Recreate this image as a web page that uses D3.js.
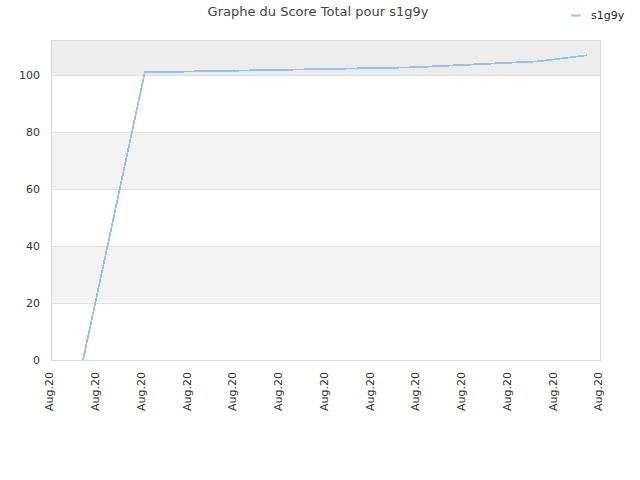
<!DOCTYPE html>
<html>
<head>
<meta charset="utf-8">
<script src="https://cdn.jsdelivr.net/npm/d3@7"></script>
<style>
  body { margin: 0; background: #fff; }
  svg { display: block; font-family: "DejaVu Sans", sans-serif; }
</style>
</head>
<body>
<svg id="chart" width="640" height="480"></svg>
<script>
// ---- data ----
const seriesName = "s1g9y";
const dates = ["2020-08-01T16:48", "2020-08-03T01:12", "2020-08-06T15:07", "2020-08-08T21:50", "2020-08-11T15:36", "2020-08-12T17:17"];
const scores = [0, 101.05, 102.1, 102.8, 104.9, 107.05];
const yTicks = [0, 20, 40, 60, 80, 100];
const xTickLabels = ["Aug.20","Aug.20","Aug.20","Aug.20","Aug.20","Aug.20","Aug.20","Aug.20","Aug.20","Aug.20","Aug.20","Aug.20","Aug.20"];
const xStart = "2020-08-01T00:00", xEnd = "2020-08-13T00:00";
const titleText = "Graphe du Score Total pour s1g9y";

const parse = d3.timeParse("%Y-%m-%dT%H:%M");
const data = dates.map((d, i) => ({ t: parse(d), v: scores[i] }));

const svg = d3.select("#chart");
const m = { left: 51, right: 40, top: 40, bottom: 120 };
const W = 640, H = 480;
const x = d3.scaleTime().domain([parse(xStart), parse(xEnd)]).range([m.left, W - m.right]);
const yMax = d3.max(scores) * 1.05;
const y = d3.scaleLinear().domain([0, yMax]).range([H - m.bottom, m.top]);

// bands
const bandEdges = yTicks.concat([yMax]);
const g = svg.append("g");
for (let i = 0; i < bandEdges.length - 1; i++) {
  let fill = null;
  if (i === bandEdges.length - 2) fill = "#ececec";
  else if (i % 2 === 1) fill = "#f3f3f3";
  if (!fill) continue;
  g.append("rect")
    .attr("x", m.left).attr("width", W - m.right - m.left)
    .attr("y", y(bandEdges[i + 1])).attr("height", y(bandEdges[i]) - y(bandEdges[i + 1]))
    .attr("fill", fill);
}
// grid lines
g.selectAll("line.grid").data(yTicks.slice(1)).enter().append("line")
  .attr("x1", m.left).attr("x2", W - m.right)
  .attr("y1", d => Math.round(y(d)) + 0.5).attr("y2", d => Math.round(y(d)) + 0.5)
  .attr("stroke", "#e0e0e0");

// frame
svg.append("rect")
  .attr("x", m.left + 0.5).attr("y", m.top + 0.5)
  .attr("width", W - m.right - m.left).attr("height", H - m.bottom - m.top)
  .attr("fill", "none").attr("stroke", "#dadada");

// y axis labels
const yAxis = d3.axisLeft(y).tickValues(yTicks).tickSize(0).tickPadding(11);
const ya = svg.append("g").attr("transform", `translate(${m.left},0)`).call(yAxis);
ya.select(".domain").remove();
ya.selectAll("text").attr("fill", "#333").style("font-size", "11px").style("font-family", "DejaVu Sans");

// x axis labels
const xTickVals = d3.range(xTickLabels.length).map(i => d3.timeDay.offset(parse(xStart), i));
const xAxis = d3.axisBottom(x).tickValues(xTickVals).tickFormat((d, i) => xTickLabels[i]).tickSize(0);
const xa = svg.append("g").attr("transform", `translate(0,${H - m.bottom})`).call(xAxis);
xa.select(".domain").remove();
xa.selectAll("text")
  .attr("fill", "#333").style("font-size", "11px").style("font-family", "DejaVu Sans")
  .attr("text-anchor", "end")
  .attr("dy", "0.17em")
  .attr("transform", "translate(0,3) rotate(-90)")
  .attr("x", -9).attr("y", 0);

// line
const line = d3.line().x(d => x(d.t)).y(d => y(d.v));
svg.append("path").datum(data)
  .attr("d", line)
  .attr("fill", "none")
  .attr("stroke", "#92c3f2")
  .attr("stroke-width", 1.8)
  .attr("shape-rendering", "crispEdges");

// title
svg.append("text").attr("x", 318).attr("y", 16)
  .attr("text-anchor", "middle").attr("fill", "#444")
  .style("font-size", "13px").text(titleText);

// legend
svg.append("line").attr("x1", 571).attr("x2", 581).attr("y1", 15.5).attr("y2", 15.5)
  .attr("stroke", "#92c3f2").attr("stroke-width", 2);
svg.append("text").attr("x", 591).attr("y", 19)
  .attr("fill", "#222").style("font-size", "11px").text(seriesName);
</script>
</body>
</html>
